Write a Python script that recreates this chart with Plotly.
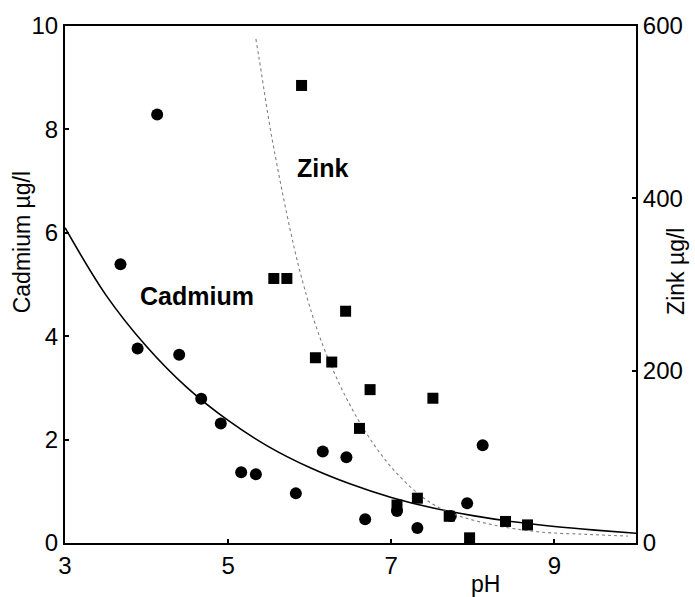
import plotly.graph_objects as go

# Cadmium measurements (pH, µg/l)
cd_ph = [3.68, 3.89, 4.13, 4.40, 4.67, 4.91, 5.16, 5.34, 5.83, 6.16, 6.45, 6.68, 7.07, 7.32, 7.73, 7.93, 8.12]
cd_val = [5.39, 3.76, 8.29, 3.64, 2.79, 2.31, 1.37, 1.33, 0.96, 1.77, 1.66, 0.46, 0.62, 0.29, 0.52, 0.77, 1.89]

# Zinc measurements (pH, µg/l)
zn_ph = [5.56, 5.72, 5.90, 6.07, 6.27, 6.44, 6.61, 6.74, 7.07, 7.32, 7.51, 7.71, 7.96, 8.40, 8.67]
zn_val = [307, 307, 531, 215, 210, 269, 133, 178, 44, 52, 168, 31, 6, 25, 21]

# Fitted curves
cd_curve_ph = [3.0, 3.5, 4.0, 4.5, 5.0, 5.5, 6.0, 6.5, 7.0, 7.5, 8.0, 8.5, 9.0, 9.5, 10.0]
cd_curve_val = [6.1, 4.8, 3.8, 3.0, 2.37, 1.86, 1.46, 1.14, 0.88, 0.68, 0.53, 0.41, 0.32, 0.25, 0.19]

zn_curve_ph = [5.34, 5.38, 5.56, 5.90, 6.20, 6.60, 7.0, 7.4, 7.7, 8.2, 8.8, 9.4, 9.9]
zn_curve_val = [585, 562, 458, 308, 220, 142, 88, 52, 36, 22, 13, 10, 8]

x_ticks = [3, 5, 7, 9]
y_ticks = [0, 2, 4, 6, 8, 10]
y2_ticks = [0, 200, 400, 600]

FONT = "Liberation Sans, Arial, sans-serif"
L, R, T, B = 65, 57, 24, 54
W, H = 695, 597
PW, PH = W - L - R, H - T - B


def px_x(px):
    return (px - L) / PW


def px_y(py):
    return 1 - (py - T) / PH


fig = go.Figure()
fig.add_trace(go.Scatter(x=cd_curve_ph, y=cd_curve_val, mode="lines",
                         line=dict(color="black", width=1.6, shape="spline", smoothing=1.0),
                         showlegend=False, hoverinfo="skip"))
fig.add_trace(go.Scatter(x=zn_curve_ph, y=zn_curve_val, mode="lines", yaxis="y2",
                         line=dict(color="#808080", width=1.1, dash="dot", shape="spline"),
                         showlegend=False, hoverinfo="skip"))
fig.add_trace(go.Scatter(x=cd_ph, y=cd_val, mode="markers",
                         marker=dict(symbol="circle", size=12, color="black"),
                         name="Cadmium", showlegend=False))
fig.add_trace(go.Scatter(x=zn_ph, y=zn_val, mode="markers", yaxis="y2",
                         marker=dict(symbol="square", size=11, color="black"),
                         name="Zink", showlegend=False))

axis_common = dict(showgrid=False, zeroline=False, showline=True, linecolor="black",
                   linewidth=2, ticks="inside", ticklen=4, tickwidth=1.5,
                   tickcolor="black", tickfont=dict(size=24))

fig.update_layout(
    width=W, height=H,
    margin=dict(l=L, r=R, t=T, b=B),
    plot_bgcolor="white", paper_bgcolor="white",
    font=dict(family=FONT, size=24, color="black"),
    xaxis=dict(range=[3, 10], tickvals=x_ticks, mirror=True, **axis_common),
    yaxis=dict(range=[0, 10], tickvals=y_ticks, **axis_common),
    yaxis2=dict(range=[0, 600], tickvals=y2_ticks, overlaying="y", side="right",
                **axis_common),
    annotations=[
        dict(text="<b>Cadmium</b>", x=4.62, y=4.78, xref="x", yref="y",
             showarrow=False, font=dict(size=25)),
        dict(text="<b>Zink</b>", x=6.16, y=7.26, xref="x", yref="y",
             showarrow=False, font=dict(size=25)),
        dict(text="pH", x=8.15, y=px_y(584), xref="x", yref="paper",
             xanchor="center", yanchor="middle", showarrow=False, font=dict(size=23)),
        dict(text="Cadmium µg/l", x=px_x(22), y=px_y(241), xref="paper", yref="paper",
             xanchor="center", yanchor="middle",
             showarrow=False, textangle=-90, font=dict(size=23)),
        dict(text="Zink µg/l", x=px_x(678), y=px_y(270), xref="paper", yref="paper",
             xanchor="center", yanchor="middle",
             showarrow=False, textangle=-90, font=dict(size=23)),
    ],
)

fig.write_html("out.html")
